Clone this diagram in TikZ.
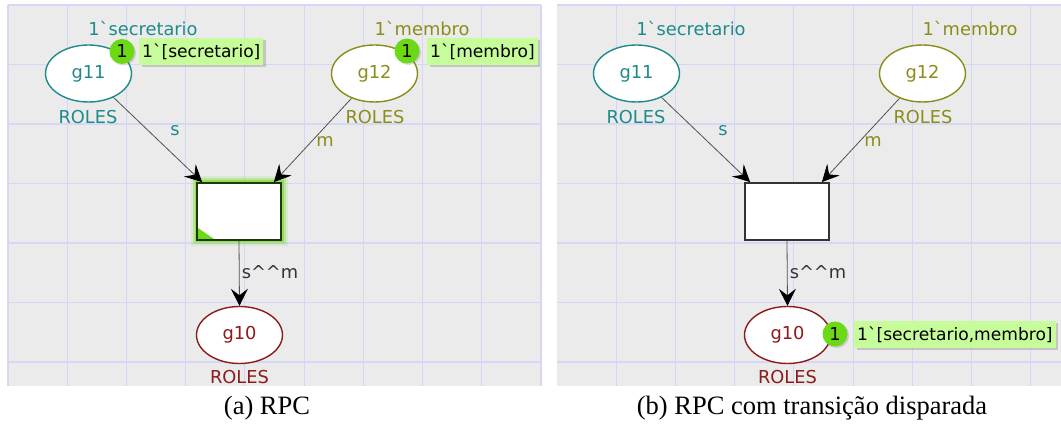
\documentclass[tikz,border=0pt]{standalone}
\usepackage{fontspec}
\usetikzlibrary{arrows.meta,calc,shapes.geometric,shadows}
\newfontfamily\cpnfont{DejaVu Sans}
\newfontfamily\capfont{Liberation Serif}
\definecolor{panelbg}{HTML}{EBEBEB}
\definecolor{gridline}{HTML}{D6D6F6}
\definecolor{tealc}{HTML}{1E8B8B}
\definecolor{olivec}{HTML}{8C8C1A}
\definecolor{redc}{HTML}{8B1C1C}
\definecolor{tokfill}{HTML}{6BD915}
\definecolor{boxfill}{HTML}{C6FC9A}
\definecolor{arcgrey}{HTML}{505050}
\definecolor{glowc}{HTML}{7CDB30}
\newcommand\bq{\symbol{96}}
\newcommand\crt{\symbol{94}}
\newcommand\cpnsize{\cpnfont\fontsize{17.8}{20}\selectfont}
\newcommand\boxsize{\cpnfont\fontsize{17.1}{20}\selectfont}
\tikzset{
  place/.style={ellipse, draw, fill=white, line width=1.4, minimum width=86,
    minimum height=57, inner sep=0, font=\cpnsize},
  transbox/.style={rectangle, draw=black!80, fill=white, line width=1.8,
    minimum width=84, minimum height=57, inner sep=0},
  lbl/.style={font=\cpnsize, inner sep=0},
  arcline/.style={draw=arcgrey, line width=0.8,
    -{Stealth[length=17, width=17, inset=6.5, color=black]}},
  token/.style={circle, fill=tokfill, minimum size=25, inner sep=0, font=\cpnsize,
    drop shadow={shadow xshift=1.5pt, shadow yshift=-1.5pt, opacity=0.3}},
  tokbox/.style={fill=boxfill, inner xsep=3, inner ysep=0, minimum height=27,
    anchor=west, font=\boxsize,
    drop shadow={shadow xshift=2.5pt, shadow yshift=-2.5pt, opacity=0.35}},
  gridpen/.style={draw=gridline, line width=1.2},
  caption/.style={font=\capfont\fontsize{26.5}{30}\selectfont, inner sep=0}
}
% the common net: three places with their inscriptions
\newcommand\drawnet[1]{%
  \node[place, draw=tealc, text=tealc] (#1g11) at (88.5,73.5) {g11};
  \node[place, draw=olivec, text=olivec] (#1g12) at (374.5,73.5) {g12};
  \node[place, draw=redc, text=redc] (#1g10) at (239.5,335) {g10};
  \node[lbl, text=tealc] (#1i11) at (143,29) {1\bq secretario};
  \node[lbl, text=olivec] (#1i12) at (422,29) {1\bq membro};
  \node[lbl, text=tealc] (#1c11) at (88,117) {ROLES};
  \node[lbl, text=olivec] (#1c12) at (375,117) {ROLES};
  \node[lbl, text=redc] (#1c10) at (239.5,377) {ROLES};
}
% the three arcs and their expressions
\newcommand\drawarcs[1]{%
  \draw[arcline] (#1g11) -- ($(#1t.north west)+(6,0)$);
  \draw[arcline] (#1g12) -- ($(#1t.north east)+(-8,0)$);
  \draw[arcline] (#1t.south) -- (#1g10.north);
  \node[lbl, text=tealc] (#1ls) at (175,131) {s};
  \node[lbl, text=olivec] (#1lm) at (325,142) {m};
  \node[lbl, text=black!80] (#1lsm) at (270,272) {s\crt\crt m};
}
\begin{document}
\begin{tikzpicture}[x=1pt, y=-1pt]
\useasboundingbox (0,0) rectangle (1061,430);
% panel (a)
\fill[panelbg] (8,5) rectangle (541,386);
\foreach \k in {0,...,9} \draw[gridpen] ({8+59.22*\k},5) -- ({8+59.22*\k},386);
\foreach \k in {0,...,6} \draw[gridpen] (8,{5+59.5*\k}) -- (541,{5+59.5*\k});
% panel (b)
\fill[panelbg] (557,5) rectangle (1061,386);
\foreach \k in {1,...,8} \draw[gridpen] ({557+59.22*\k},5) -- ({557+59.22*\k},386);
\foreach \k in {0,...,6} \draw[gridpen] (557,{5+59.5*\k}) -- (1061,{5+59.5*\k});

% net (a): enabled transition with its green halo
\begin{scope}
  \drawnet{a}
  \draw[glowc, line width=13, opacity=0.15] (197,183) rectangle (281,240);
  \draw[glowc, line width=9, opacity=0.3] (197,183) rectangle (281,240);
  \draw[glowc, line width=5, opacity=0.65] (197,183) rectangle (281,240);
  \node[transbox, draw=black!75!glowc] (at) at (239,211.5) {};
  \fill[tokfill] (198,228) -- (198,239) -- (214,239) -- cycle;
  \drawarcs{a}
  \node[token] (atok11) at (122,51.5) {1};
  \node[tokbox] (abox11) at (139,51.5) {1\bq[secretario]};
  \node[token] (atok12) at (407,51) {1};
  \node[tokbox] (abox12) at (427,51.5) {1\bq[membro]};
\end{scope}

% net (b): after the transition has fired
\begin{scope}[xshift=548pt]
  \drawnet{b}
  \node[transbox] (bt) at (239,211.5) {};
  \drawarcs{b}
  \node[token] (btok10) at (287,334) {1};
  \node[tokbox] (bbox10) at (306,334.5) {1\bq[secretario,membro]};
\end{scope}

\node[caption] (capa) at (267,408) {(a)\ RPC};
\node[caption] (capb) at (812,408) {(b)\ RPC com transição disparada};
\end{tikzpicture}
\end{document}
